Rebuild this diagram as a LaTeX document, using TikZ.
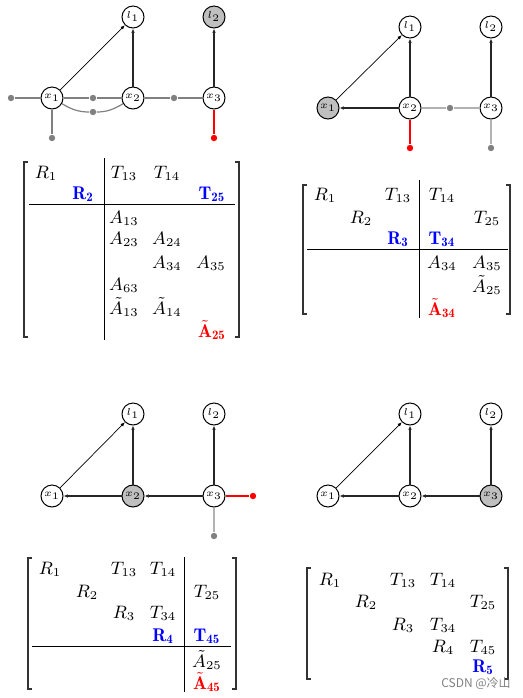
\documentclass[tikz,border=0pt]{standalone}
\usepackage{amsmath}
\usepackage{fontspec}
\newfontfamily\cjk{Noto Sans CJK SC}
\usetikzlibrary{arrows.meta}

% bracket pair: left x, right x, top y, bottom y
\newcommand{\mbrack}[4]{%
	\draw[bk] (#1+4,#3) -- (#1,#3) -- (#1,#4) -- (#1+4,#4);
	\draw[bk] (#2-4,#3) -- (#2,#3) -- (#2,#4) -- (#2-4,#4);
}

\begin{document}
\begin{tikzpicture}[x=0.5pt,y=-0.5pt,
	var/.style={draw,circle,inner sep=0pt,minimum size=11pt,line width=0.5pt,font=\tiny},
	marg/.style={var,fill=gray!50},
	fac/.style={fill=gray,circle,inner sep=0pt,minimum size=3.2pt},
	rfac/.style={fac,fill=red},
	fline/.style={gray,line width=0.6pt},
	lfline/.style={gray!60,line width=0.6pt},
	rline/.style={red,line width=0.6pt},
	tarr/.style={-{Latex[length=2.2pt,width=1.8pt]},line width=0.35pt},
	arr/.style={-{Latex[length=2.2pt,width=1.8pt]},line width=0.65pt,black!85},
	ent/.style={inner sep=0pt,font=\fontsize{9.2}{10}\selectfont},
	bk/.style={line width=0.6pt,black!80},
	rule/.style={line width=0.45pt}]
\useasboundingbox (0,0) rectangle (523,698);

% graph 1
\node[var] (a1) at (52,98) {$x_1$};
\node[var] (a2) at (133,98) {$x_2$};
\node[var] (a3) at (214,98) {$x_3$};
\node[var] (al1) at (133,17) {$l_1$};
\node[marg] (al2) at (214,17) {$l_2$};
\node[fac] (af0) at (11,98) {};
\node[fac] (af12) at (93,98) {};
\node[fac] (af12b) at (93,112) {};
\node[fac] (af23) at (174,98) {};
\node[fac] (af1) at (52,138) {};
\node[rfac] (af3) at (214,138) {};
\draw[fline] (af0) -- (a1) -- (af12) -- (a2) -- (af23) -- (a3);
\draw[fline] (a1) -- (af1);
\draw[fline] (a1) to[out=-30,in=180] (af12b) to[out=0,in=-150] (a2);
\draw[rline] (a3) -- (af3);
\draw[tarr] (a1) -- (al1);
\draw[arr] (a2) -- (al1);
\draw[arr] (a3) -- (al2);

% graph 2
\node[marg] (b1) at (328,108) {$x_1$};
\node[var] (b2) at (410,108) {$x_2$};
\node[var] (b3) at (491,108) {$x_3$};
\node[var] (bl1) at (410,27) {$l_1$};
\node[var] (bl2) at (491,27) {$l_2$};
\node[fac] (bf23) at (450,108) {};
\node[rfac] (bf2) at (410,148) {};
\node[fac] (bf3) at (491,148) {};
\draw[lfline] (b2) -- (bf23) -- (b3);
\draw[lfline] (b3) -- (bf3);
\draw[rline] (b2) -- (bf2);
\draw[tarr] (b1) -- (bl1);
\draw[arr] (b2) -- (bl1);
\draw[arr] (b2) -- (b1);
\draw[arr] (b3) -- (bl2);

% graph 3
\node[var] (c1) at (52,496) {$x_1$};
\node[marg] (c2) at (133,496) {$x_2$};
\node[var] (c3) at (214,496) {$x_3$};
\node[var] (cl1) at (133,414) {$l_1$};
\node[var] (cl2) at (214,414) {$l_2$};
\node[rfac] (cf3r) at (253,496) {};
\node[fac] (cf3) at (214,536) {};
\draw[rline] (c3) -- (cf3r);
\draw[lfline] (c3) -- (cf3);
\draw[tarr] (c1) -- (cl1);
\draw[arr] (c2) -- (cl1);
\draw[arr] (c2) -- (c1);
\draw[arr] (c3) -- (c2);
\draw[arr] (c3) -- (cl2);

% graph 4
\node[var] (d1) at (328,496) {$x_1$};
\node[var] (d2) at (410,496) {$x_2$};
\node[marg] (d3) at (491,496) {$x_3$};
\node[var] (dl1) at (410,414) {$l_1$};
\node[var] (dl2) at (491,414) {$l_2$};
\draw[tarr] (d1) -- (dl1);
\draw[arr] (d2) -- (dl1);
\draw[arr] (d2) -- (d1);
\draw[arr] (d3) -- (d2);
\draw[arr] (d3) -- (dl2);

% matrix 1
\mbrack{24}{239}{162}{337}
\draw[rule] (104,158) -- (104,340);
\draw[rule] (29,204) -- (235,204);
\foreach \n/\x/\y/\t in {r1/46/173/R_1, t13/124/173/T_{13}, t14/167/173/T_{14},
	r2/83/194/{\color{blue}\mathbf{R_2}}, t25/212/194/{\color{blue}\mathbf{T_{25}}},
	a13/124/218/A_{13}, a23/124/239/A_{23}, a24/167/239/A_{24},
	a34/167/263/A_{34}, a35/211/263/A_{35}, a63/124/285/A_{63},
	ta13/124/307/\tilde{A}_{13}, ta14/167/307/\tilde{A}_{14},
	ta25/212/330/{\color{red}\tilde{\mathbf{A}}_{\mathbf{25}}}}
	\node[ent] (ma-\n) at (\x,\y) {$\t$};

% matrix 2
\mbrack{303}{510}{185}{314}
\draw[rule] (419,180) -- (419,318);
\draw[rule] (307,249) -- (508,249);
\foreach \n/\x/\y/\t in {r1/325/195/R_1, t13/398/195/T_{13}, t14/442/195/T_{14},
	r2/361/218/R_2, t25/487/218/T_{25},
	r3/398/239/{\color{blue}\mathbf{R_3}}, t34/442/239/{\color{blue}\mathbf{T_{34}}},
	a34/442/263/A_{34}, a35/487/263/A_{35}, ta25/487/285/\tilde{A}_{25},
	ta34/442/308/{\color{red}\tilde{\mathbf{A}}_{\mathbf{34}}}}
	\node[ent] (mb-\n) at (\x,\y) {$\t$};

% matrix 3
\mbrack{28}{236}{558}{689}
\draw[rule] (184,557) -- (184,692);
\draw[rule] (32,646) -- (231,646);
\foreach \n/\x/\y/\t in {r1/50/569/R_1, t13/124/569/T_{13}, t14/163/569/T_{14},
	r2/87/592/R_2, t25/207/592/T_{25},
	r3/124/613/R_3, t34/163/613/T_{34},
	r4/163/636/{\color{blue}\mathbf{R_4}}, t45/207/636/{\color{blue}\mathbf{T_{45}}},
	ta25/207/660/\tilde{A}_{25},
	ta45/207/682/{\color{red}\tilde{\mathbf{A}}_{\mathbf{45}}}}
	\node[ent] (mc-\n) at (\x,\y) {$\t$};

% matrix 4
\mbrack{307}{508}{568}{679}
\foreach \n/\x/\y/\t in {r1/330/580/R_1, t13/403/580/T_{13}, t14/443/580/T_{14},
	r2/366/602/R_2, t25/483/602/T_{25},
	r3/403/625/R_3, t34/443/625/T_{34},
	r4/443/647/R_4, t45/483/647/T_{45},
	r5/483/667/{\color{blue}\mathbf{R_5}}}
	\node[ent] (md-\n) at (\x,\y) {$\t$};

\node[gray,font=\cjk\fontsize{6}{6}\selectfont] (wm) at (476,683) {CSDN @冷山};
\end{tikzpicture}
\end{document}
